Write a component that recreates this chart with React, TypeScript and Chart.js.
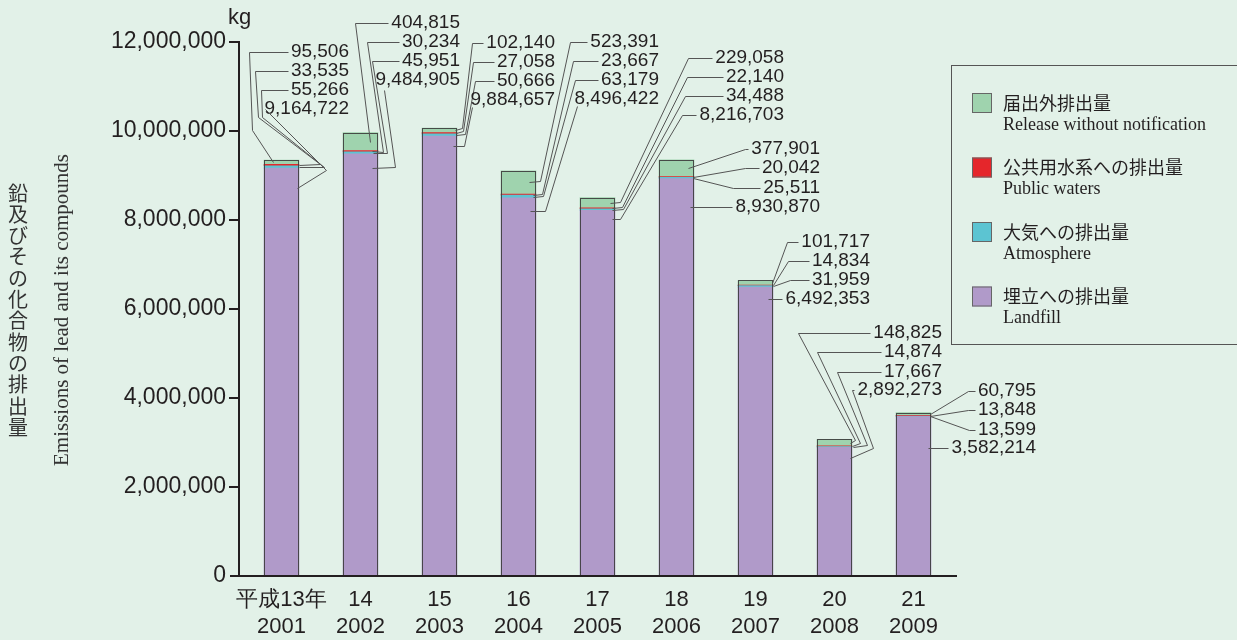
import React, { useEffect, useRef } from "react";
import { Chart, registerables } from "chart.js";

Chart.register(...registerables);

// ---------- data ----------
const eraLabels = ["平成13年", "14", "15", "16", "17", "18", "19", "20", "21"];
const years = ["2001", "2002", "2003", "2004", "2005", "2006", "2007", "2008", "2009"];
const landfill = [9164722, 9484905, 9884657, 8496422, 8216703, 8930870, 6492353, 2892273, 3582214];
const atmosphere = [55266, 45951, 50666, 63179, 34488, 25511, 31959, 17667, 13599];
const publicWaters = [33535, 30234, 27058, 23667, 22140, 20042, 14834, 14874, 13848];
const release = [95506, 404815, 102140, 523391, 229058, 377901, 101717, 148825, 60795];
const yTicks = [0, 2000000, 4000000, 6000000, 8000000, 10000000, 12000000];

const seriesJa = ["埋立への排出量", "大気への排出量", "公共用水系への排出量", "届出外排出量"];
const seriesEn = ["Landfill", "Atmosphere", "Public waters", "Release without notification"];
const yTitleJa = "鉛及びその化合物の排出量";
const yTitleEn = "Emissions of lead and its compounds";
const unitLabel = "kg";

// ---------- styles ----------
const BG = "#e2f1e8";
const COLORS = ["#b09ac9", "#5cc4d2", "#e5262b", "#9fd3ae"];
const TEXT = "#231f20";
const SANS = '"Liberation Sans", Arial, sans-serif';
const SERIF = '"Liberation Serif", "Times New Roman", serif';
const CJK = '"Noto Sans CJK JP", sans-serif';

// ---------- callout layout (annotation geometry, per year: release, public, atmosphere, landfill) ----------
type Callout = { tx: number; ty: number; h: boolean; pts: number[][]; dx: number; ey?: number };
const calloutLayout: Callout[][] = [
  [
    { tx: 349, ty: 52, h: true, pts: [[249, 52], [252, 130]], dx: -8.5 },
    { tx: 349, ty: 71, h: true, pts: [[255, 71], [258, 117], [320, 164]], dx: 17.5 },
    { tx: 349, ty: 90, h: true, pts: [[261, 90], [262, 117], [324, 167]], dx: 17.5 },
    { tx: 349, ty: 109, h: false, pts: [[265, 109], [326, 170]], dx: 15.5, ey: 20 },
  ],
  [
    { tx: 460, ty: 23, h: true, pts: [[355, 23]], dx: 9.5 },
    { tx: 460, ty: 42, h: true, pts: [[367, 42], [383, 152]], dx: 11.5 },
    { tx: 460, ty: 61, h: true, pts: [[372, 61], [387, 153]], dx: 12.5 },
    { tx: 460, ty: 80, h: false, pts: [[384, 90], [395, 167]], dx: 11.5, ey: 14 },
  ],
  [
    { tx: 555, ty: 43, h: true, pts: [[472, 43], [462, 128]], dx: 15.5 },
    { tx: 555, ty: 62, h: true, pts: [[473, 62], [463, 131]], dx: 16 },
    { tx: 555, ty: 81, h: true, pts: [[475, 81], [465, 134]], dx: 16 },
    { tx: 555, ty: 100, h: false, pts: [[472, 107], [464, 146]], dx: 13.5, ey: 10 },
  ],
  [
    { tx: 659, ty: 42, h: true, pts: [[570, 42], [540, 181]], dx: 10.5 },
    { tx: 659, ty: 61, h: true, pts: [[573, 61], [542, 194]], dx: 14.5 },
    { tx: 659, ty: 80, h: true, pts: [[575, 80], [543, 196]], dx: 14.5 },
    { tx: 659, ty: 99, h: false, pts: [[577, 106], [545, 211]], dx: 11.5, ey: 13 },
  ],
  [
    { tx: 784, ty: 58, h: true, pts: [[688, 58], [620, 202]], dx: 12.5 },
    { tx: 784, ty: 77, h: true, pts: [[687, 77], [622, 207]], dx: 14.5 },
    { tx: 784, ty: 96, h: true, pts: [[685, 96], [623, 209]], dx: 14.5 },
    { tx: 784, ty: 115, h: true, pts: [[682, 115], [620, 219]], dx: 14.5, ey: 9 },
  ],
  [
    { tx: 820, ty: 149, h: true, pts: [[745, 149]], dx: 11.5 },
    { tx: 820, ty: 168, h: true, pts: [[745, 168]], dx: 16.5 },
    { tx: 820, ty: 188, h: true, pts: [[733, 188]], dx: 16.5 },
    { tx: 820, ty: 207, h: true, pts: [], dx: 13.5, ey: 28.5 },
  ],
  [
    { tx: 870, ty: 242, h: true, pts: [[787, 242]], dx: 16.5 },
    { tx: 870, ty: 261, h: true, pts: [[788, 261]], dx: 17.5 },
    { tx: 870, ty: 280, h: true, pts: [[790, 280]], dx: 17.5 },
    { tx: 870, ty: 299, h: true, pts: [], dx: 12.5, ey: 12 },
  ],
  [
    { tx: 942, ty: 333, h: true, pts: [[798, 333], [855, 440]], dx: 15.5 },
    { tx: 942, ty: 352, h: true, pts: [[817, 352], [860, 443]], dx: 17.5 },
    { tx: 942, ty: 372, h: true, pts: [[837, 372], [867, 445]], dx: 18.5 },
    { tx: 942, ty: 390, h: true, pts: [[852, 390], [873, 448]], dx: 15.5, ey: 10.7 },
  ],
  [
    { tx: 1036, ty: 391, h: true, pts: [[968, 391]], dx: 16.5 },
    { tx: 1036, ty: 410, h: true, pts: [[968, 410]], dx: 16.5 },
    { tx: 1036, ty: 430, h: true, pts: [[969, 430]], dx: 16.5 },
    { tx: 1036, ty: 448, h: true, pts: [], dx: 14.5, ey: 31.5 },
  ],
];

const seriesValues = [landfill, atmosphere, publicWaters, release];

const decorPlugin = {
  id: "decor",
  beforeDraw(chart: any) {
    const ctx = chart.ctx;
    ctx.save();
    ctx.fillStyle = BG;
    ctx.fillRect(0, 0, chart.width, chart.height);
    ctx.restore();
  },
  afterDatasetsDraw(chart: any) {
    const ctx = chart.ctx;
    const y = chart.scales.y;
    ctx.save();
    ctx.strokeStyle = "rgba(60,60,60,0.9)";
    ctx.lineWidth = 1;
    const top = chart.getDatasetMeta(3);
    top.data.forEach((el: any, i: number) => {
      const total = landfill[i] + atmosphere[i] + publicWaters[i] + release[i];
      const yt = Math.round(y.getPixelForValue(total)) + 0.5;
      const yb = y.getPixelForValue(0);
      const x0 = Math.round(el.x - el.width / 2) + 0.5;
      const x1 = Math.round(el.x + el.width / 2) - 0.5;
      ctx.strokeRect(x0, yt, x1 - x0, yb - yt);
    });
    ctx.restore();
  },
  afterDraw(chart: any) {
    const ctx = chart.ctx;
    const area = chart.chartArea;
    const ys = chart.scales.y;
    ctx.save();
    // axes
    ctx.strokeStyle = TEXT;
    ctx.lineWidth = 2;
    const axX = area.left - 3;
    const topY = ys.getPixelForValue(yTicks[yTicks.length - 1]);
    const botY = ys.getPixelForValue(0);
    ctx.beginPath();
    ctx.moveTo(axX, topY - 1);
    ctx.lineTo(axX, botY);
    ctx.stroke();
    yTicks.forEach((v) => {
      if (v === 0) return;
      const py = Math.round(ys.getPixelForValue(v));
      ctx.beginPath();
      ctx.moveTo(axX - 10, py);
      ctx.lineTo(axX, py);
      ctx.stroke();
    });
    ctx.beginPath();
    ctx.moveTo(area.left - 12, botY);
    ctx.lineTo(area.right + 4, botY);
    ctx.stroke();

    // unit
    ctx.fillStyle = TEXT;
    ctx.font = `22px ${SANS}`;
    ctx.textAlign = "left";
    ctx.textBaseline = "middle";
    ctx.fillText(unitLabel, 228, 18);

    // y title (Japanese, vertical)
    ctx.fillStyle = "#333";
    ctx.font = `20px ${CJK}`;
    ctx.textAlign = "center";
    const chars = Array.from(yTitleJa);
    chars.forEach((c, i) => {
      ctx.fillText(c, 18, 193 + i * 21.3);
    });
    // y title (English, rotated)
    ctx.save();
    ctx.translate(62, 310);
    ctx.rotate(-Math.PI / 2);
    ctx.font = `21px ${SERIF}`;
    ctx.fillText(yTitleEn, 0, 0);
    ctx.restore();

    // legend
    ctx.strokeStyle = "#555";
    ctx.lineWidth = 1;
    ctx.strokeRect(951.5, 65.5, 320, 279);
    for (let k = 0; k < 4; k++) {
      const d = 3 - k;
      const rowY = 93 + k * 64.5;
      ctx.fillStyle = COLORS[d];
      ctx.fillRect(972, rowY, 20, 20);
      ctx.strokeStyle = "#666";
      ctx.strokeRect(972.5, rowY + 0.5, 19, 19);
      ctx.fillStyle = TEXT;
      ctx.textAlign = "left";
      ctx.font = `18px ${CJK}`;
      ctx.fillText(seriesJa[d], 1003, rowY + 10);
      ctx.font = `18px ${SERIF}`;
      ctx.fillText(seriesEn[d], 1003, rowY + 32);
    }

    // callouts
    ctx.font = `19px ${SANS}`;
    ctx.textAlign = "right";
    ctx.textBaseline = "middle";
    ctx.strokeStyle = "#555";
    ctx.lineWidth = 1;
    calloutLayout.forEach((rows, i) => {
      rows.forEach((c, k) => {
        const d = 3 - k;
        const el = chart.getDatasetMeta(d).data[i];
        const text = seriesValues[d][i].toLocaleString("en-US");
        ctx.fillStyle = TEXT;
        ctx.fillText(text, c.tx, c.ty);
        const w = ctx.measureText(text).width;
        const ex = el.x + c.dx;
        const ey = c.ey !== undefined ? el.y + c.ey : (el.y + el.base) / 2;
        const path: number[][] = [];
        if (c.h) path.push([c.tx - w - 3, c.ty]);
        c.pts.forEach((p) => path.push(p));
        path.push([ex, ey]);
        ctx.beginPath();
        path.forEach((p, j) => {
          const px = Math.round(p[0]) + 0.5;
          const py = Math.round(p[1]) + 0.5;
          if (j === 0) ctx.moveTo(px, py);
          else ctx.lineTo(px, py);
        });
        ctx.stroke();
      });
    });
    ctx.restore();
  },
};

export default function App() {
  const ref = useRef<HTMLCanvasElement | null>(null);
  useEffect(() => {
    if (!ref.current) return;
    const chart = new Chart(ref.current, {
      type: "bar",
      data: {
        labels: eraLabels.map((e, i) => [e, years[i]]),
        datasets: seriesValues.map((vals, d) => ({
          label: seriesEn[d],
          data: vals,
          backgroundColor: COLORS[d],
          borderWidth: 0,
          barThickness: 35,
        })),
      },
      options: {
        animation: false,
        responsive: false,
        devicePixelRatio: 1,
        layout: { padding: { left: 0, right: 284, top: 42, bottom: 0 } },
        plugins: { legend: { display: false }, tooltip: { enabled: false }, title: { display: false } },
        scales: {
          x: {
            stacked: true,
            grid: { display: false, drawTicks: false },
            border: { display: false },
            ticks: {
              color: TEXT,
              font: { family: SANS, size: 22, lineHeight: 1.227 },
              padding: 10.5,
              maxRotation: 0,
              autoSkip: false,
            },
            afterFit: (s: any) => {
              s.height = 64;
            },
          },
          y: {
            stacked: true,
            min: 0,
            max: 12000000,
            grid: { display: false, drawTicks: false },
            border: { display: false },
            afterBuildTicks: (s: any) => {
              s.ticks = yTicks.map((v) => ({ value: v }));
            },
            ticks: {
              color: TEXT,
              font: { family: SANS, size: 23 },
              padding: 16,
              callback: (v: any) => Number(v).toLocaleString("en-US"),
            },
            afterFit: (s: any) => {
              s.width = 242;
            },
          },
        },
      },
      plugins: [decorPlugin],
    });
    return () => chart.destroy();
  }, []);
  return (
    <div style={{ position: "fixed", left: 0, top: 0, width: 1237, height: 640, background: BG }}>
      <canvas ref={ref} width={1237} height={640} style={{ width: 1237, height: 640, display: "block" }} />
    </div>
  );
}
